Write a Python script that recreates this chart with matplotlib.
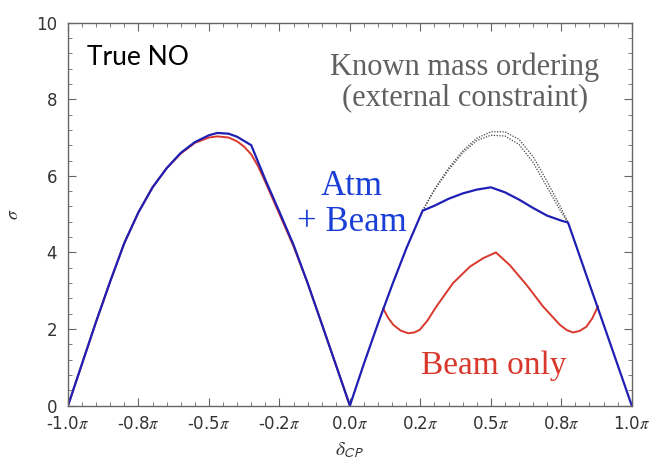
import matplotlib.pyplot as plt
import numpy as np

plt.rcParams['mathtext.fontset'] = 'stix'

# delta_CP in units of pi
blue_x = [-1.0, -0.95, -0.9, -0.85, -0.8, -0.75, -0.7, -0.65, -0.6, -0.55, -0.5, -0.47, -0.43, -0.4, -0.35,
          -0.3, -0.25, -0.2, -0.15, -0.1, -0.05, 0.0,
          0.05, 0.1, 0.15, 0.2, 0.258, 0.3, 0.35, 0.4, 0.45, 0.5,
          0.55, 0.6, 0.65, 0.7, 0.75, 0.774, 0.8, 0.85, 0.9, 0.95, 1.0]
blue_y = [0.0, 1.1, 2.2, 3.25, 4.25, 5.05, 5.7, 6.2, 6.6, 6.88, 7.06, 7.12, 7.1, 7.02, 6.8,
          5.9, 5.06, 4.2, 3.2, 2.14, 1.07, 0.0,
          1.1, 2.15, 3.15, 4.1, 5.09, 5.22, 5.4, 5.54, 5.64, 5.7,
          5.57, 5.38, 5.16, 4.96, 4.83, 4.78, 4.23, 3.17, 2.12, 1.06, 0.0]

red_left_x = [-1.0, -0.95, -0.9, -0.85, -0.8, -0.75, -0.7, -0.65, -0.6, -0.55, -0.5, -0.47, -0.43, -0.4,
              -0.375, -0.35, -0.325, -0.3, -0.25, -0.2, -0.15, -0.1, -0.05, 0.0]
red_left_y = [0.0, 1.1, 2.2, 3.25, 4.25, 5.05, 5.7, 6.2, 6.58, 6.86, 7.0, 7.03, 7.0, 6.9,
              6.76, 6.56, 6.24, 5.84, 5.0, 4.16, 3.2, 2.14, 1.07, 0.0]

red_right_x = [0.118, 0.135, 0.154, 0.18, 0.207, 0.228, 0.248, 0.275, 0.307, 0.366, 0.426, 0.473, 0.518,
               0.567, 0.627, 0.685, 0.745, 0.77, 0.792, 0.815, 0.839, 0.86, 0.88]
red_right_y = [2.54, 2.3, 2.11, 1.96, 1.89, 1.91, 1.98, 2.22, 2.59, 3.2, 3.63, 3.85, 4.0,
               3.67, 3.15, 2.59, 2.11, 1.97, 1.91, 1.95, 2.06, 2.28, 2.59]

dot_x = [0.258, 0.3, 0.35, 0.4, 0.45, 0.5, 0.55, 0.6, 0.65, 0.7, 0.75, 0.774]
dot_outer = [5.09, 5.65, 6.2, 6.65, 6.98, 7.15, 7.15, 6.95, 6.5, 5.85, 5.15, 4.78]
dot_inner = [5.09, 5.63, 6.15, 6.6, 6.92, 7.06, 7.04, 6.82, 6.35, 5.7, 5.05, 4.78]

xticks = [-1.0, -0.75, -0.5, -0.25, 0.0, 0.25, 0.5, 0.75, 1.0]
xlabels = ['-1.0', '-0.8', '-0.5', '-0.2', '0.0', '0.2', '0.5', '0.8', '1.0']

blue = '#1f1fb4'
red = '#d9382c'

fig = plt.figure(figsize=(6.54, 4.62), dpi=100)
ax = fig.add_axes([0.104, 0.122, 0.862, 0.829])

ax.plot(dot_x, dot_outer, color='#444444', lw=0.9, ls=(0, (1, 1.2)))
ax.plot(dot_x, dot_inner, color='#444444', lw=0.9, ls=(0, (1, 1.2)))
ax.plot(red_left_x, red_left_y, color=red, lw=1.4)
ax.plot(red_right_x, red_right_y, color=red, lw=1.4)
ax.plot(blue_x, blue_y, color=blue, lw=1.6)

ax.set_xlim(-1, 1)
ax.set_ylim(0, 10)
ax.set_xticks(xticks)
ax.set_xticklabels([l + r'$\pi$' for l in xlabels])
ax.set_xticks(np.arange(-1, 1.001, 0.05), minor=True)
ax.set_yticks(range(0, 11, 2))
ax.set_yticks(np.arange(0, 10.001, 0.4), minor=True)

for s in ax.spines.values():
    s.set_color('#666666')
    s.set_linewidth(1.0)
ax.tick_params(which='both', direction='in', top=True, right=True, colors='#666666',
               labelcolor='#333333', labelsize=12)
ax.tick_params(which='major', length=6)
ax.tick_params(which='minor', length=3)
ax.tick_params(axis='x', pad=7)
ax.tick_params(axis='y', pad=8)

ax.set_ylabel(r'$\sigma$', fontsize=13, color='#333333', labelpad=10)
ax.set_xlabel(r'$\delta_{\mathsf{CP}}$', fontsize=14, color='#333333', labelpad=5)

ax.text(-0.934, 9.1, 'True NO', fontsize=19, family='Lato', color='black', ha='left', va='center')
ax.text(0.408, 8.45, 'Known mass ordering\n(external constraint)', fontsize=22, family='Liberation Serif',
        color='#606060', ha='center', va='center', linespacing=1.05)
ax.text(0.006, 5.25, 'Atm\n+ Beam', fontsize=25, family='Liberation Serif', color='#1a3fd6',
        ha='center', va='center', linespacing=1.1)
ax.text(0.51, 1.05, 'Beam only', fontsize=24, family='Liberation Serif', color=red,
        ha='center', va='center')

fig.savefig('out.png', dpi=100)
